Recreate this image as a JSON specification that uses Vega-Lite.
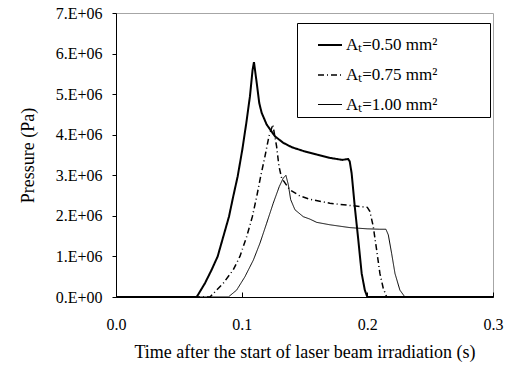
{
  "$schema": "https://vega.github.io/schema/vega-lite/v6.json",
  "width": 377,
  "height": 284,
  "autosize": {"type": "none"},
  "padding": {"left": 116, "top": 13, "right": 12, "bottom": 70},
  "background": "white",
  "config": {
    "view": {"stroke": "#a6a6a6", "strokeWidth": 1},
    "font": "Liberation Serif",
    "legend": {
      "orient": "none", "legendX": 181, "legendY": 10,
      "direction": "vertical",
      "strokeColor": "black", "fillColor": "white",
      "padding": 4, "rowPadding": 9,
      "symbolType": "stroke", "symbolSize": 576, "symbolStrokeColor": "black",
      "symbolOffset": 16,
      "labelFont": "Liberation Serif", "labelFontSize": 17, "labelColor": "black",
      "labelOffset": 3, "labelLimit": 0,
      "titleFont": "Liberation Serif", "titleFontSize": 5, "titlePadding": 0
    }
  },
  "data": {
    "values": [
      {"s": "A0.50", "t": 0.0, "p": 0},
      {"s": "A0.50", "t": 0.0642, "p": 0},
      {"s": "A0.50", "t": 0.0708, "p": 340000},
      {"s": "A0.50", "t": 0.0761, "p": 670000},
      {"s": "A0.50", "t": 0.0809, "p": 1000000},
      {"s": "A0.50", "t": 0.0854, "p": 1490000},
      {"s": "A0.50", "t": 0.0899, "p": 1980000},
      {"s": "A0.50", "t": 0.0933, "p": 2480000},
      {"s": "A0.50", "t": 0.0968, "p": 2970000},
      {"s": "A0.50", "t": 0.1005, "p": 3630000},
      {"s": "A0.50", "t": 0.1037, "p": 4290000},
      {"s": "A0.50", "t": 0.1066, "p": 4950000},
      {"s": "A0.50", "t": 0.1087, "p": 5600000},
      {"s": "A0.50", "t": 0.1098, "p": 5790000},
      {"s": "A0.50", "t": 0.1120, "p": 5270000},
      {"s": "A0.50", "t": 0.1140, "p": 4780000},
      {"s": "A0.50", "t": 0.1159, "p": 4540000},
      {"s": "A0.50", "t": 0.1199, "p": 4250000},
      {"s": "A0.50", "t": 0.1265, "p": 3960000},
      {"s": "A0.50", "t": 0.1331, "p": 3800000},
      {"s": "A0.50", "t": 0.1400, "p": 3690000},
      {"s": "A0.50", "t": 0.1500, "p": 3590000},
      {"s": "A0.50", "t": 0.1600, "p": 3510000},
      {"s": "A0.50", "t": 0.1700, "p": 3430000},
      {"s": "A0.50", "t": 0.1800, "p": 3380000},
      {"s": "A0.50", "t": 0.1848, "p": 3400000},
      {"s": "A0.50", "t": 0.1860, "p": 3340000},
      {"s": "A0.50", "t": 0.1875, "p": 3050000},
      {"s": "A0.50", "t": 0.1900, "p": 2230000},
      {"s": "A0.50", "t": 0.1928, "p": 1410000},
      {"s": "A0.50", "t": 0.1955, "p": 580000},
      {"s": "A0.50", "t": 0.1980, "p": 170000},
      {"s": "A0.50", "t": 0.2000, "p": 0},
      {"s": "A0.50", "t": 0.3000, "p": 0},
      {"s": "A0.75", "t": 0.0, "p": 0},
      {"s": "A0.75", "t": 0.0748, "p": 0},
      {"s": "A0.75", "t": 0.0854, "p": 340000},
      {"s": "A0.75", "t": 0.0933, "p": 670000},
      {"s": "A0.75", "t": 0.0986, "p": 1000000},
      {"s": "A0.75", "t": 0.1040, "p": 1490000},
      {"s": "A0.75", "t": 0.1085, "p": 1980000},
      {"s": "A0.75", "t": 0.1120, "p": 2480000},
      {"s": "A0.75", "t": 0.1151, "p": 2970000},
      {"s": "A0.75", "t": 0.1185, "p": 3460000},
      {"s": "A0.75", "t": 0.1217, "p": 3960000},
      {"s": "A0.75", "t": 0.1248, "p": 4250000},
      {"s": "A0.75", "t": 0.1278, "p": 3710000},
      {"s": "A0.75", "t": 0.1297, "p": 3220000},
      {"s": "A0.75", "t": 0.1318, "p": 2930000},
      {"s": "A0.75", "t": 0.1384, "p": 2640000},
      {"s": "A0.75", "t": 0.1464, "p": 2490000},
      {"s": "A0.75", "t": 0.1543, "p": 2410000},
      {"s": "A0.75", "t": 0.1702, "p": 2310000},
      {"s": "A0.75", "t": 0.1850, "p": 2260000},
      {"s": "A0.75", "t": 0.1941, "p": 2230000},
      {"s": "A0.75", "t": 0.2000, "p": 2210000},
      {"s": "A0.75", "t": 0.2020, "p": 2110000},
      {"s": "A0.75", "t": 0.2047, "p": 1740000},
      {"s": "A0.75", "t": 0.2074, "p": 1160000},
      {"s": "A0.75", "t": 0.2100, "p": 580000},
      {"s": "A0.75", "t": 0.2127, "p": 210000},
      {"s": "A0.75", "t": 0.2154, "p": 0},
      {"s": "A0.75", "t": 0.3000, "p": 0},
      {"s": "A1.00", "t": 0.0, "p": 0},
      {"s": "A1.00", "t": 0.0894, "p": 0},
      {"s": "A1.00", "t": 0.0960, "p": 170000},
      {"s": "A1.00", "t": 0.1026, "p": 500000},
      {"s": "A1.00", "t": 0.1093, "p": 910000},
      {"s": "A1.00", "t": 0.1146, "p": 1330000},
      {"s": "A1.00", "t": 0.1199, "p": 1820000},
      {"s": "A1.00", "t": 0.1251, "p": 2310000},
      {"s": "A1.00", "t": 0.1299, "p": 2720000},
      {"s": "A1.00", "t": 0.1331, "p": 2930000},
      {"s": "A1.00", "t": 0.1352, "p": 3000000},
      {"s": "A1.00", "t": 0.1371, "p": 2770000},
      {"s": "A1.00", "t": 0.1390, "p": 2400000},
      {"s": "A1.00", "t": 0.1424, "p": 2150000},
      {"s": "A1.00", "t": 0.1490, "p": 1980000},
      {"s": "A1.00", "t": 0.1543, "p": 1920000},
      {"s": "A1.00", "t": 0.1597, "p": 1840000},
      {"s": "A1.00", "t": 0.1702, "p": 1780000},
      {"s": "A1.00", "t": 0.1862, "p": 1710000},
      {"s": "A1.00", "t": 0.2000, "p": 1680000},
      {"s": "A1.00", "t": 0.2100, "p": 1670000},
      {"s": "A1.00", "t": 0.2148, "p": 1670000},
      {"s": "A1.00", "t": 0.2167, "p": 1530000},
      {"s": "A1.00", "t": 0.2193, "p": 1080000},
      {"s": "A1.00", "t": 0.2220, "p": 580000},
      {"s": "A1.00", "t": 0.2259, "p": 170000},
      {"s": "A1.00", "t": 0.2299, "p": 0},
      {"s": "A1.00", "t": 0.3000, "p": 0}
    ]
  },
  "mark": {"type": "line", "color": "black", "clip": true},
  "encoding": {
    "x": {
      "field": "t", "type": "quantitative",
      "scale": {"domain": [0, 0.3], "nice": false, "zero": false},
      "axis": {
        "values": [0, 0.1, 0.2, 0.3], "format": ".1f", "grid": false,
        "domainColor": "black", "domainWidth": 1,
        "tickColor": "black", "tickSize": -5, "tickWidth": 1,
        "labelFont": "Liberation Serif", "labelFontSize": 16, "labelColor": "black",
        "labelPadding": 24, "labelFlush": false,
        "title": "Time after the start of laser beam irradiation (s)",
        "titleFont": "Liberation Serif", "titleFontSize": 18, "titleFontWeight": "normal",
        "titleColor": "black", "titlePadding": 11
      }
    },
    "y": {
      "field": "p", "type": "quantitative",
      "scale": {"domain": [0, 7000000], "nice": false},
      "axis": {
        "values": [0, 1000000, 2000000, 3000000, 4000000, 5000000, 6000000, 7000000],
        "labelExpr": "datum.value == 0 ? '0.E+00' : (datum.value / 1000000) + '.E+06'",
        "grid": false,
        "domainColor": "black", "domainWidth": 1,
        "tickColor": "black", "tickSize": 4, "tickWidth": 1,
        "labelFont": "Liberation Serif", "labelFontSize": 16, "labelColor": "black",
        "labelPadding": 10, "labelFlush": false,
        "title": "Pressure (Pa)",
        "titleFont": "Liberation Serif", "titleFontSize": 18, "titleFontWeight": "normal",
        "titleColor": "black", "titlePadding": 18
      }
    },
    "strokeWidth": {
      "field": "s", "type": "nominal",
      "scale": {"domain": ["A0.50", "A0.75", "A1.00"], "range": [2, 1, 1]},
      "legend": {
        "title": " ",
        "labelExpr": "datum.value == 'A0.50' ? 'Aₜ=0.50 mm²\u2800\u2800\u2800\u2800' : datum.value == 'A0.75' ? 'Aₜ=0.75 mm²\u2800\u2800\u2800\u2800' : 'Aₜ=1.00 mm²\u2800\u2800\u2800\u2800'"
      }
    },
    "strokeDash": {
      "field": "s", "type": "nominal",
      "scale": {"domain": ["A0.50", "A0.75", "A1.00"], "range": [[1, 0], [6, 3, 1, 3], [1, 0]]},
      "legend": {
        "title": " ",
        "labelExpr": "datum.value == 'A0.50' ? 'Aₜ=0.50 mm²\u2800\u2800\u2800\u2800' : datum.value == 'A0.75' ? 'Aₜ=0.75 mm²\u2800\u2800\u2800\u2800' : 'Aₜ=1.00 mm²\u2800\u2800\u2800\u2800'"
      }
    }
  }
}
